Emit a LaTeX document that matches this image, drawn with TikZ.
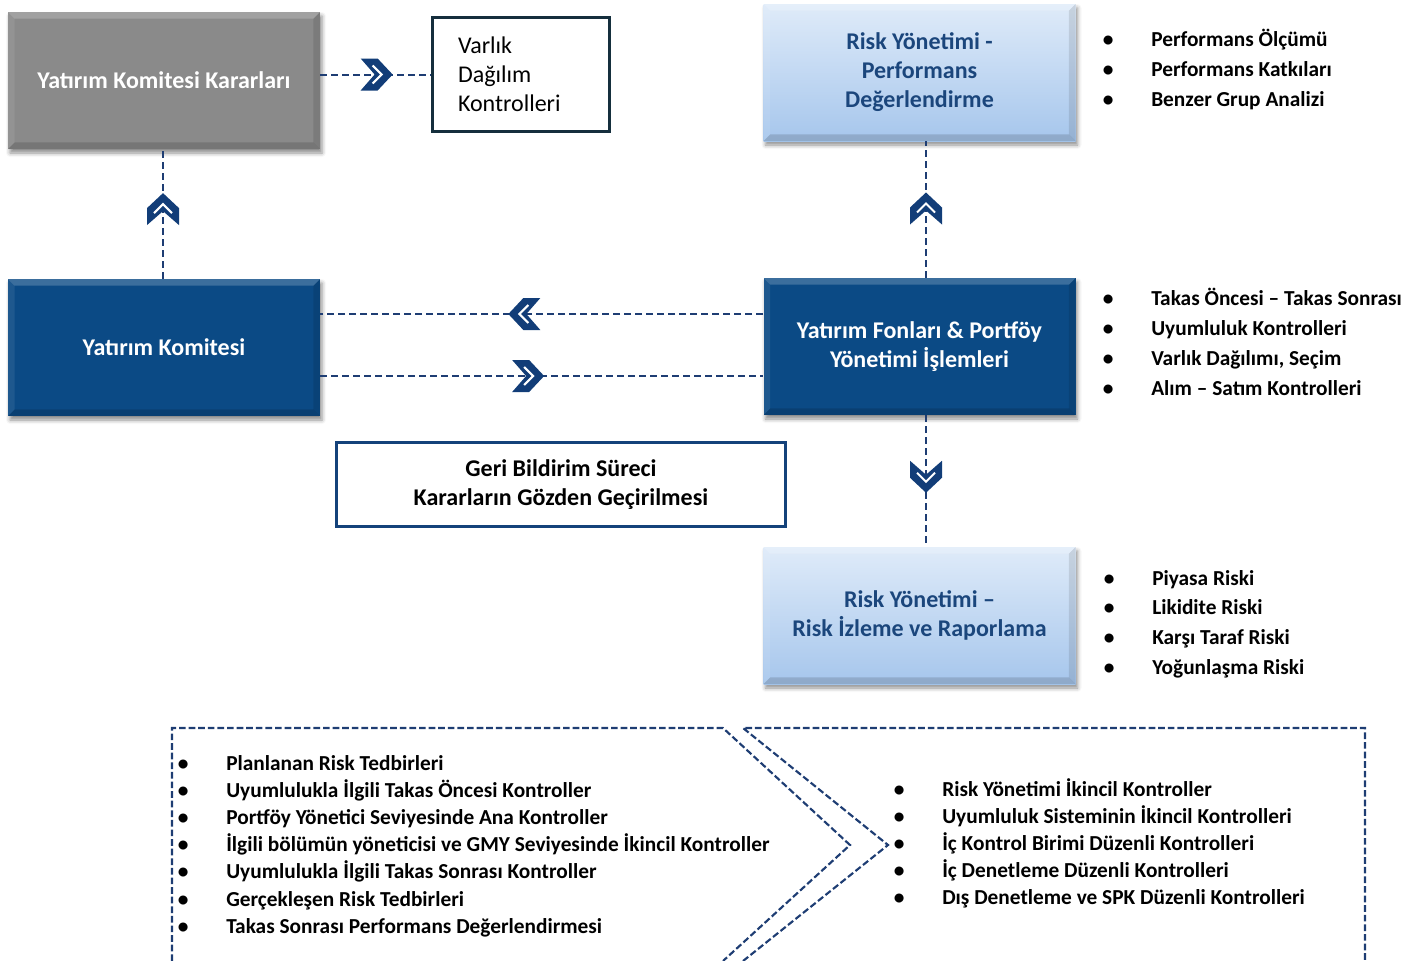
\documentclass[tikz,border=0pt]{standalone}
\usepackage{fontspec}
\setmainfont{Carlito}
\usetikzlibrary{shadows.blur}

\definecolor{navyfill}{HTML}{0B4A85}
\definecolor{linkblue}{HTML}{1E3D73}
\definecolor{chevblue}{HTML}{123D78}
\definecolor{txtblue}{HTML}{1B467C}
\definecolor{greyfill}{HTML}{8A8A8A}
\definecolor{lighttop}{HTML}{DFEBF9}
\definecolor{lightbot}{HTML}{A6C6EC}
\definecolor{vdkline}{HTML}{152F3D}
\definecolor{gerline}{HTML}{14427A}

% zero-width bullet centred on the list's left edge, text 43px further right
\newcommand{\bl}{\makebox[0pt][c]{\textbullet}\hspace{32.25pt}}

\tikzset{
  bevel/.style={path picture={
    \fill[white,opacity=.20] (path picture bounding box.north west) -- (path picture bounding box.north east)
      -- ([xshift=-5pt,yshift=-5pt]path picture bounding box.north east) -- ([xshift=5pt,yshift=-5pt]path picture bounding box.north west) -- cycle;
    \fill[white,opacity=.08] (path picture bounding box.north west) -- ([xshift=5pt,yshift=-5pt]path picture bounding box.north west)
      -- ([xshift=5pt,yshift=5pt]path picture bounding box.south west) -- (path picture bounding box.south west) -- cycle;
    \fill[black,opacity=.10] (path picture bounding box.north east) -- (path picture bounding box.south east)
      -- ([xshift=-5pt,yshift=5pt]path picture bounding box.south east) -- ([xshift=-5pt,yshift=-5pt]path picture bounding box.north east) -- cycle;
    \fill[black,opacity=.14] (path picture bounding box.south west) -- (path picture bounding box.south east)
      -- ([xshift=-5pt,yshift=5pt]path picture bounding box.south east) -- ([xshift=5pt,yshift=5pt]path picture bounding box.south west) -- cycle;
  }},
  box/.style={minimum width=234pt, minimum height=102.75pt, inner sep=0pt, align=center,
    blur shadow={shadow xshift=1.5pt, shadow yshift=-3pt, shadow blur radius=3pt, shadow opacity=45},
    bevel, font=\bfseries\fontsize{18}{21.75}\selectfont},
  darkbox/.style={box, fill=navyfill, text=white},
  greybox/.style={box, fill=greyfill, text=white},
  lightbox/.style={box, top color=lighttop, bottom color=lightbot, text=txtblue},
  link/.style={draw=linkblue, line width=1.5pt, dash pattern=on 5.25pt off 3pt},
  frame/.style={draw=linkblue, line width=1.6pt, dash pattern=on 5pt off 2.2pt, line join=miter},
  blist/.style={anchor=base west, inner sep=0pt, font=\bfseries\fontsize{16}{#1}\selectfont},
  linkchev/.pic={
    \fill[chevblue] (-15,-16) -- (2,-16) -- (17,0) -- (2,16) -- (-15,16) -- (-1,0) -- cycle;
    \draw[white, line width=1.5pt, line join=miter] (-3,-9) -- (6,0) -- (-3,9);
  }
}

\begin{document}
\begin{tikzpicture}[x=0.75pt,y=-0.75pt]
\useasboundingbox (0,0) rectangle (1422,961);

% main process boxes
\node[greybox]  (ykk)  at (164,80.5)  {Yatırım Komitesi Kararları};
\node[darkbox]  (yk)   at (164,347.5) {Yatırım Komitesi};
\node[lightbox] (perf) at (919.5,72.5) {Risk Yönetimi -\\Performans\\Değerlendirme};
\node[darkbox]  (fon)  at (919.5,346.5) {Yatırım Fonları \& Portföy\\Yönetimi İşlemleri};
\node[lightbox] (riz)  at (919.5,615.5) {Risk Yönetimi –\\Risk İzleme ve Raporlama};

\node[draw=vdkline, line width=2.25pt, minimum width=132.75pt, minimum height=85.5pt, inner sep=0pt,
      text width=94.5pt, align=left, font=\fontsize{18}{21.75}\selectfont]
  (vdk) at (521,74.5) {Varlık\\Dağılım\\Kontrolleri};

\node[draw=gerline, line width=2.25pt, minimum width=336.75pt, minimum height=63pt, inner sep=0pt,
      align=center, font=\bfseries\fontsize{18}{21.75}\selectfont]
  (geri) at (561,484.5) {Geri Bildirim Süreci\\Kararların Gözden Geçirilmesi};

% connectors with chevron markers
\draw[link] (vdk.west -| ykk.east) -- coordinate[midway] (m1) (vdk.west);
\pic at (m1) {linkchev};

\draw[link] (163,0 |- yk.north) -- coordinate[pos=.53] (m2) (163,0 |- ykk.south);
\pic[rotate=90] at (m2) {linkchev};

\draw[link] (926,0 |- fon.north) -- coordinate[pos=.5] (m3) (926,0 |- perf.south);
\pic[rotate=90] at (m3) {linkchev};

\draw[link] (fon.west |- 0,314) -- coordinate[pos=.537] (m4) (yk.east |- 0,314);
\pic[rotate=180] at (m4) {linkchev};

\draw[link] (yk.east |- 0,376) -- coordinate[pos=.467] (m5) (fon.west |- 0,376);
\pic at (m5) {linkchev};

\draw[link] (926,0 |- fon.south) -- coordinate[pos=.46] (m6) (926,0 |- riz.north);
\pic[rotate=-90] at (m6) {linkchev};

% side lists
\node[blist=22.5pt] (lperf) at (1108,46) {\begin{tabular}[t]{@{}l@{}}
  \bl Performans Ölçümü\\ \bl Performans Katkıları\\ \bl Benzer Grup Analizi\end{tabular}};
\node[blist=22.5pt] (lfon) at (1108,305) {\begin{tabular}[t]{@{}l@{}}
  \bl Takas Öncesi – Takas Sonrası\\ \bl Uyumluluk Kontrolleri\\ \bl Varlık Dağılımı, Seçim\\ \bl Alım – Satım Kontrolleri\end{tabular}};
\node[blist=22.3pt] (lriz) at (1109,585) {\begin{tabular}[t]{@{}l@{}}
  \bl Piyasa Riski\\ \bl Likidite Riski\\ \bl Karşı Taraf Riski\\ \bl Yoğunlaşma Riski\end{tabular}};

% dashed control frames
\draw[frame] (172,961) -- (172,728) -- (723,728) -- (850,845) -- (723,961);
\draw[frame] (743,961) -- (888,845) -- (743,728) -- (1365,728) -- (1365,961);

\node[blist=20.4pt] (lfirst) at (183,770) {\begin{tabular}[t]{@{}l@{}}
  \bl Planlanan Risk Tedbirleri\\
  \bl Uyumlulukla İlgili Takas Öncesi Kontroller\\
  \bl Portföy Yönetici Seviyesinde Ana Kontroller\\
  \bl İlgili bölümün yöneticisi ve GMY Seviyesinde İkincil Kontroller\\
  \bl Uyumlulukla İlgili Takas Sonrası Kontroller\\
  \bl Gerçekleşen Risk Tedbirleri\\
  \bl Takas Sonrası Performans Değerlendirmesi\end{tabular}};
\node[blist=20.25pt] (lsecond) at (899,796) {\begin{tabular}[t]{@{}l@{}}
  \bl Risk Yönetimi İkincil Kontroller\\
  \bl Uyumluluk Sisteminin İkincil Kontrolleri\\
  \bl İç Kontrol Birimi Düzenli Kontrolleri\\
  \bl İç Denetleme Düzenli Kontrolleri\\
  \bl Dış Denetleme ve SPK Düzenli Kontrolleri\end{tabular}};
\end{tikzpicture}
\end{document}
